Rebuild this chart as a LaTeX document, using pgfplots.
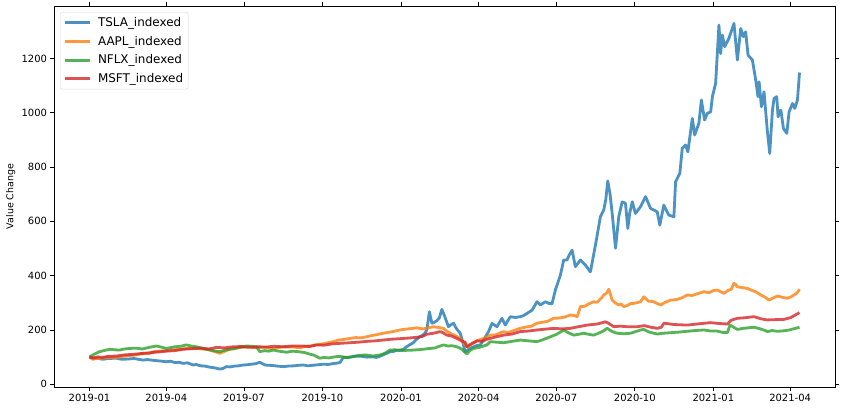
\documentclass[border=0pt]{standalone}
\usepackage{pgfplots}
\pgfplotsset{compat=1.18}
\usepackage{fontspec}
\setmainfont{DejaVu Sans}
\definecolor{cT}{HTML}{1F77B4}
\definecolor{cA}{HTML}{FF7F0E}
\definecolor{cN}{HTML}{2CA02C}
\definecolor{cM}{HTML}{D62728}
\begin{document}
\begin{tikzpicture}
\begin{axis}[name=ax, scale only axis, width=781bp, height=381bp,
  xmin=-41.6, xmax=873.6, ymin=-10, ymax=1393,
  axis line style={line width=0.8bp},
  tick align=outside, major tick length=3.5bp,
  tick style={black, line width=0.8bp},
  xtick={0,90,181,273,365,456,547,639,731,821},
  xticklabels={2019-01,2019-04,2019-07,2019-10,2020-01,2020-04,2020-07,2020-10,2021-01,2021-04},
  ytick={0,200,400,600,800,1000,1200},
  /pgf/number format/assume math mode=true,
  /pgf/number format/1000 sep={},
  ticklabel style={font=\fontsize{10}{12}\selectfont},
  ylabel={Value Change},
  ylabel style={font=\fontsize{9.5}{11}\selectfont, at={(axis description cs:-0.0553,0.5)}, anchor=center},
  legend style={at={(axis description cs:0.0077,0.984)}, anchor=north west,
    draw=black!15, rounded corners=2bp, fill=white, fill opacity=0.8, text opacity=1,
    font=\fontsize{12}{14}\selectfont, row sep=4.2bp, column sep=5bp, inner sep=3bp},
  legend cell align=left,
  legend image code/.code={\draw[#1, line width=2.8bp] (0bp,0bp) -- (25bp,0bp);},
  every axis plot/.append style={line width=2.8bp, opacity=0.8, line join=round},
]
\addplot[cT] table {
0 100
4 96
8 97
12 94
15.6 92
22 95
31.3 96
38 92
45 93
52 95
62.6 89
68 91
75 88
82 86
90 83
95 85
100 80
105 81
109.5 77
115 79
121.3 71
125 73
130 68
135 67
140.9 63
146 61
152.6 56
156 58
160.5 65
165 64
170 67
175 68
180 71
185 72
190 74
195 76
199.6 81
205.5 71
210 70
215 69
220 67
226.9 65
233 67
240 68
245 70
250.4 71
256 68
262 70
268 72
273.9 74
280 73
285 76
290 78
293.5 80
297.4 99
303 98
308 102
313.1 104
319 103
325 100
331 101
336.6 99
341 104
345 110
349 115
352.2 120
356 121
360 125
364 126
367.8 129
371 137
375 145
379 152
383.5 166
387 175
390 180
393 188
395.3 200
398.3 267
401.2 225
404 228
407 234
410 245
412.9 276
416 252
420.6 212
423 218
426.5 225
430 205
434.4 188
437 160
440.2 120
444 128
448 135
453 142
457.9 145
463 170
467.6 194
471.6 224
477.5 212
483.3 243
487.2 218
493.1 249
499 246
504.8 249
508 252
512.7 261
518.6 273
524.4 304
528.3 292
534.2 304
538 298
542 296
545.9 347
551.8 402
555.7 458
559.6 458
562 475
565.5 494
569.4 433
575.3 458
581.1 439
587 414
592.9 513
598.7 617
602.6 642
605 680
607.3 749
610 700
612.5 629
616.4 501
620.2 617
624.2 672
628.1 666
630.8 574
633 630
636 672
639.8 629
645.7 654
651.6 691
657.4 648
665.3 635
668.3 586
673 660
678.9 623
684.8 617
686.8 746
691.8 777
694.6 869
698.5 881
701.2 856
706.4 979
709.1 918
714.1 961
717 1047
720.8 973
724 998
727.9 1003
729.9 1059
733.7 1108
737.6 1323
739.6 1218
741.6 1286
744.3 1243
749.3 1274
755.2 1329
759.2 1194
763.1 1310
766.3 1280
768.9 1298
771.7 1212
776.8 1194
780.7 1120
783.4 1059
784.6 1114
787.4 1022
790.4 1077
794.4 930
797.1 850
800.3 1010
802.2 1053
805.3 1059
806.9 985
810.1 1010
813.2 942
817.1 924
819.8 1003
823.8 1034
826.5 1016
829.6 1047
832 1148
};
\addlegendentry{TSLA\_indexed}
\addplot[cA] table {
0 100
3.9 92
8 95
15 96
22 99
31.3 99
40 103
47 106
55 108
62.6 114
70 113
75 120
82 122
90 124
97 127
105 128
111 131
117.4 132
125 134
130 130
137 129
142 125
148 119
152.6 114
158 121
164.4 129
170 131
175 135
182 137
187.8 138
195 134
200 137
207.4 136
214 131
220 135
226.9 138
233 137
240 137
247 134
252 139
258.3 141
265 145
272 148
278 152
285.6 157
292 163
298 165
305.2 169
312 172
318 171
324.8 175
330 179
337 183
344.3 188
350 191
357 195
363.9 200
370 203
377 205
383.5 208
390 204
395 206
400 210
403 212
409 209
414.8 206
418 197
422.6 188
428 180
434.4 169
438 155
442.3 138
446 145
450 152
454 160
460 167
465 172
469.6 181
476 182
480 188
485.2 194
490 190
497 198
504.8 206
510 210
518 214
524.4 225
530 228
537 232
544 243
550 244
556 247
563.5 255
568 253
571.4 249
575.3 286
580 287
585 296
590.9 304
595 302
600 318
602.6 329
606 336
608.5 350
612.5 310
616 300
620.2 292
623 296
626.1 286
630 290
634 297
637.9 298
641 300
645.7 304
649.6 322
655 306
660 305
665 298
669.3 292
674 301
678 306
681 310
688 312
694 318
700.5 329
706 327
712 333
720 341
726 337
731 345
735.7 347
740 340
743.5 335
748 345
752 350
755.2 372
757 368
759.2 359
765 356
770.9 353
776 346
781 340
786.6 329
791 322
796.4 310
801 318
806.3 325
812 320
817.9 317
822 322
825.7 329
829 336
832 350
};
\addlegendentry{AAPL\_indexed}
\addplot[cN] table {
0 100
5 110
11.7 120
17 124
23.5 129
30 127
35 126
41 130
47 132
55 133
62 130
70 136
78.3 141
84 137
90 132
95 135
100 138
107 140
113.5 145
119 141
125 138
131 134
137 129
145 124
152.6 120
160 127
170 132
177 137
184 141
190 140
195.7 138
199.6 120
205 124
210 122
215.2 126
222 122
230.9 118
238 122
245 120
252 117
258 111
262.2 108
267 101
270 96
275 99
280 97
285.6 100
292 103
301.4 99
308 101
312 104
318 107
324.8 108
332 104
340.5 108
346 114
352.2 126
358 127
365 124
372 125
379.6 126
388 128
399.2 132
405 134
410 140
414.8 145
420 141
425 142
430.5 138
436 130
440 118
442.3 112
446 125
450 132
457 136
465.7 145
469.6 157
477 155
485.2 153
495 158
504.8 163
514 160
524.4 157
532 165
540.2 175
548 185
555.7 200
561 190
567.5 181
573 184
579.1 188
585 184
590.9 181
598 190
602 196
606.6 206
612 195
618.3 188
626 186
634 188
640 194
645.7 200
649.6 202
656 192
665.3 185
672 188
681 190
690 192
700 195
710 198
720 200
728 196
735 196
742 191
747.5 190
750.5 218
755 210
759.2 202
766 206
772 208
778.7 210
785 205
790 200
794.4 194
800 198
806 195
813.9 197
820 200
826 205
832 210
};
\addlegendentry{NFLX\_indexed}
\addplot[cM] table {
0 100
5 97
10 101
15 99
22 103
31.3 104
40 108
50 110
60 113
70.4 116
80 119
90 122
100 124
109.5 129
120 131
130 133
140 130
148.7 136
158 134
168 138
178 139
187.8 136
197 138
207 137
216 140
226.9 138
238 141
250 141
258 139
266.1 145
275 144
285 149
295 151
305.2 153
315 155
325 158
335 160
344.3 163
354 166
363.9 168
373 170
383.5 173
390 176
395 184
403 188
410.9 194
414 190
418.8 181
424 178
430.5 169
436 160
440.2 155
442.3 138
448 150
454 160
460 158
465 165
469.6 169
477 175
485.2 181
495 185
504.8 194
514 196
524.4 200
534 203
544 206
554 204
563.5 206
573 212
583.1 218
595 222
604.6 230
608 225
614.4 212
622 214
630 212
641.8 212
650 216
658 210
665.3 206
670 210
673.2 225
685 220
700.5 218
712 222
727.9 227
737 224
747.5 222
752 236
759.2 243
768 245
778.7 249
787 241
794.4 237
803 238
813.9 239
822 246
832 264
};
\addlegendentry{MSFT\_indexed}
\end{axis}
\pgfresetboundingbox
\path ([xshift=-54bp,yshift=-24bp]ax.south west) rectangle ([xshift=7bp,yshift=6bp]ax.north east);
\end{tikzpicture}
\end{document}
